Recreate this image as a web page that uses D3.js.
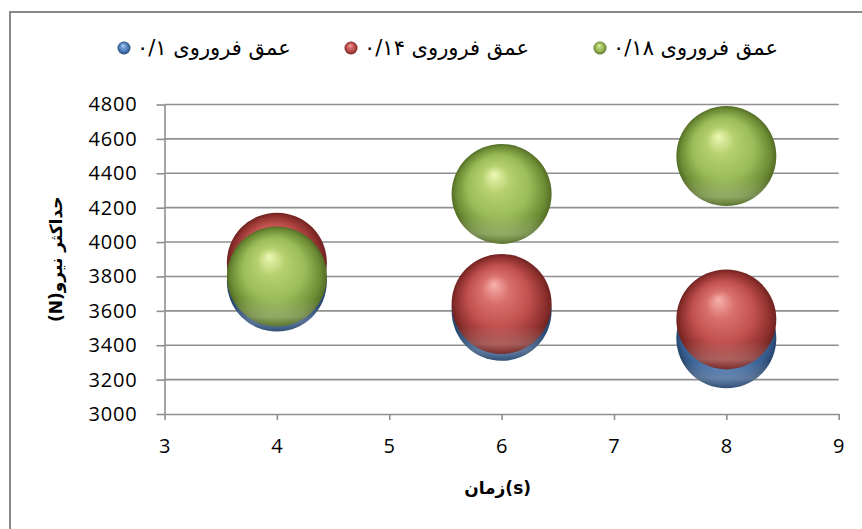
<!DOCTYPE html>
<html>
<head>
<meta charset="utf-8">
<script src="https://cdn.jsdelivr.net/npm/d3@7"></script>
<style>
  html, body { margin: 0; padding: 0; background: #fff; }
  svg { display: block; }
</style>
</head>
<body>
<svg id="chart" width="862" height="529"></svg>
<script>
// Time (s) at which each measurement was taken
const times = [4, 6, 8];

// Series: indentation depth
const seriesNames = ["عمق فروروی ۰/۱", "عمق فروروی ۰/۱۴", "عمق فروروی ۰/۱۸"];

// Maximum force (N) per series
const force01  = [3770, 3600, 3440];
const force014 = [3880, 3640, 3550];
const force018 = [3800, 4280, 4500];

// Bubble sizes per series
const size01  = [1, 1, 1];
const size014 = [1, 1, 1];
const size018 = [1, 1, 1];

// Axis ticks
const xTickValues = [3, 4, 5, 6, 7, 8, 9];
const yTickValues = [3000, 3200, 3400, 3600, 3800, 4000, 4200, 4400, 4600, 4800];

const xTitle = "زمان(s)";
const yTitle = "حداکثر نیرو(N)";

const palette = [
  { base: "#4f81bd", hi: "#c4dbf6", light: "#7aa3d6", dark: "#34598a", edge: "#26456d" },
  { base: "#c0504d", hi: "#f7b1ad", light: "#d9706c", dark: "#8c2f2c", edge: "#6e2220" },
  { base: "#9bbb59", hi: "#eef8b4", light: "#b5d06f", dark: "#6b8a33", edge: "#536c25" }
];

const series = [
  { name: seriesNames[0], y: force01,  s: size01 },
  { name: seriesNames[1], y: force014, s: size014 },
  { name: seriesNames[2], y: force018, s: size018 }
];

const svg = d3.select("#chart");
const W = 862, H = 529;
const plot = { left: 164.5, right: 838.7, top: 104.5, bottom: 414 };

// chart frame
svg.append("rect")
  .attr("x", 10).attr("y", 12)
  .attr("width", W + 20).attr("height", H + 20)
  .attr("fill", "#fff").attr("stroke", "#898989").attr("stroke-width", 2);

const x = d3.scaleLinear().domain([3, 9]).range([plot.left, plot.right]);
const y = d3.scaleLinear().domain([3000, 4800]).range([plot.bottom, plot.top]);
const r = d3.scaleSqrt().domain([0, 1]).range([0, 50]);

// gradients for the shaded spheres
const defs = svg.append("defs");
palette.forEach((c, i) => {
  const g = defs.append("radialGradient")
    .attr("id", "sph" + i)
    .attr("cx", "0.5").attr("cy", "0.5").attr("r", "0.5")
    .attr("fx", "0.42").attr("fy", "0.3");
  g.append("stop").attr("offset", "0").attr("stop-color", c.hi);
  g.append("stop").attr("offset", "0.28").attr("stop-color", c.light);
  g.append("stop").attr("offset", "0.62").attr("stop-color", c.base);
  g.append("stop").attr("offset", "0.9").attr("stop-color", c.dark);
  g.append("stop").attr("offset", "1").attr("stop-color", c.edge);
});
const refl = defs.append("linearGradient")
  .attr("id", "refl").attr("x1", 0).attr("y1", 0).attr("x2", 0).attr("y2", 1);
refl.append("stop").attr("offset", "0.72").attr("stop-color", "#fff").attr("stop-opacity", 0);
refl.append("stop").attr("offset", "0.9").attr("stop-color", "#fff").attr("stop-opacity", 0.22);
refl.append("stop").attr("offset", "1").attr("stop-color", "#fff").attr("stop-opacity", 0.05);

// horizontal gridlines
svg.append("g")
  .selectAll("line")
  .data(yTickValues.slice(1))
  .join("line")
  .attr("x1", plot.left).attr("x2", plot.right)
  .attr("y1", d => y(d)).attr("y2", d => y(d))
  .attr("stroke", "#8f8f8f").attr("stroke-width", 1.6);

// axes
const tickFont = "'Open Sans', sans-serif";
const yAxis = svg.append("g")
  .attr("transform", `translate(${plot.left},0)`)
  .call(d3.axisLeft(y).tickValues(yTickValues).tickSizeInner(8).tickSizeOuter(0).tickPadding(19).tickFormat(d3.format("d")));
const xAxis = svg.append("g")
  .attr("transform", `translate(0,${plot.bottom})`)
  .call(d3.axisBottom(x).tickValues(xTickValues).tickSizeInner(6).tickSizeOuter(0).tickPadding(19).tickFormat(d3.format("d")));
[yAxis, xAxis].forEach(a => {
  a.select(".domain").attr("stroke", "#8f8f8f").attr("stroke-width", 1.6);
  a.selectAll(".tick line").attr("stroke", "#8f8f8f").attr("stroke-width", 1.6);
  a.selectAll(".tick text")
    .attr("fill", "#000")
    .style("font-family", tickFont)
    .style("font-size", "20px")
    .style("letter-spacing", "0.8px");
});

// axis titles
svg.append("text")
  .attr("x", (plot.left + plot.right) / 2 - 4)
  .attr("y", 494)
  .attr("text-anchor", "middle")
  .style("font-family", "'DejaVu Sans', sans-serif")
  .style("font-weight", "bold")
  .style("font-size", "17px")
  .text(xTitle);

svg.append("text")
  .attr("transform", `translate(62,${(plot.top + plot.bottom) / 2}) rotate(-90)`)
  .attr("text-anchor", "middle")
  .attr("direction", "rtl")
  .style("direction", "rtl")
  .style("font-family", "'DejaVu Sans', sans-serif")
  .style("font-weight", "bold")
  .style("font-size", "17px")
  .text(yTitle);

// bubbles, one layer per series
series.forEach((s, i) => {
  const pts = times.map((t, j) => ({ t, v: s.y[j], size: s.s[j] }));
  const g = svg.append("g");
  g.selectAll("circle.b")
    .data(pts)
    .join("circle")
    .attr("class", "b")
    .attr("cx", d => x(d.t)).attr("cy", d => y(d.v)).attr("r", d => r(d.size))
    .attr("fill", `url(#sph${i})`);
  g.selectAll("circle.rf")
    .data(pts)
    .join("circle")
    .attr("class", "rf")
    .attr("cx", d => x(d.t)).attr("cy", d => y(d.v)).attr("r", d => r(d.size))
    .attr("fill", "url(#refl)");
});

// legend
const legendX = [124, 351, 600];
const legend = svg.append("g");
series.forEach((s, i) => {
  legend.append("circle")
    .attr("cx", legendX[i]).attr("cy", 48).attr("r", 6.5)
    .attr("fill", `url(#sph${i})`);
  legend.append("text")
    .attr("x", legendX[i] + 13)
    .attr("y", 55)
    .attr("text-anchor", "start")
    .style("font-family", "'DejaVu Sans', sans-serif")
    .style("font-size", "21px")
    .text(s.name);
});
</script>
</body>
</html>
